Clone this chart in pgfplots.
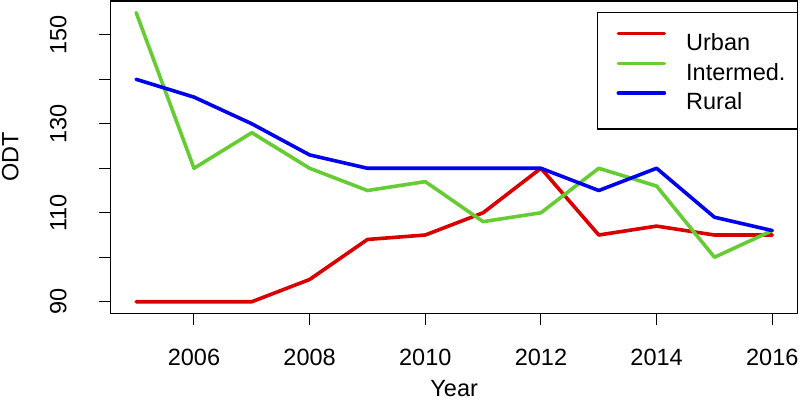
\documentclass[border=0pt]{standalone}
\usepackage{fontspec}
\setmainfont{Liberation Sans}
\usepackage{pgfplots}
\pgfplotsset{compat=1.18}

\definecolor{urban}{RGB}{218,0,0}
\definecolor{intermed}{RGB}{102,204,51}
\definecolor{rural}{RGB}{0,0,238}

\begin{document}
\fontsize{23.5bp}{28bp}\selectfont
\begin{tikzpicture}
\begin{axis}[
  scale only axis,
  width=687bp, height=312.3bp,
  xmin=2004.56, xmax=2016.44,
  ymin=87.4, ymax=157.6,
  axis line style={line width=1.1bp},
  tick pos=left,
  tick align=outside,
  major tick length=12bp,
  tick style={line width=1bp, black},
  xtick={2006,2008,2010,2012,2014,2016},
  xticklabels={2006,2008,2010,2012,2014,2016},
  ytick={90,100,110,120,130,140,150},
  yticklabels={90,{},110,{},130,{},150},
  xticklabel style={anchor=base, yshift=-40.3bp},
  yticklabel style={anchor=base, xshift=-32.4bp, rotate=90},
  xlabel={Year},
  ylabel={ODT},
  xlabel style={at={(axis description cs:0.5,0)}, anchor=base, yshift=-83.5bp},
  ylabel style={at={(axis description cs:0,0.5)}, anchor=base, yshift=92.4bp},
  every axis plot/.append style={line width=3.6bp, line cap=round, line join=round},
  legend cell align=left,
  legend image code/.code={
    \path[draw=none] (0bp,8.4bp) -- (66.7bp,8.4bp);
    \draw[#1] (20.7bp,8.4bp) -- (66.7bp,8.4bp);
  },
  legend style={
    at={(axis description cs:1,1)}, anchor=north east, yshift=-11.3bp,
    draw=black, line width=1.1bp, fill=white,
    inner xsep=0bp, inner ysep=19bp, row sep=11bp,
    nodes={inner sep=0bp, text height=17bp, text depth=0bp},
    /tikz/every odd column/.append style={column sep=20bp},
  },
]
\addplot[color=urban] coordinates {
  (2005,90) (2006,90) (2007,90) (2008,95) (2009,104) (2010,105)
  (2011,110) (2012,120) (2013,105) (2014,107) (2015,105) (2016,105)
};
\addlegendentry{\makebox[111bp][l]{Urban}}
\addplot[color=intermed] coordinates {
  (2005,155) (2006,120) (2007,128) (2008,120) (2009,115) (2010,117)
  (2011,108) (2012,110) (2013,120) (2014,116) (2015,100) (2016,106)
};
\addlegendentry{\makebox[111bp][l]{Intermed.}}
\addplot[color=rural] coordinates {
  (2005,140) (2006,136) (2007,130) (2008,123) (2009,120) (2010,120)
  (2011,120) (2012,120) (2013,115) (2014,120) (2015,109) (2016,106)
};
\addlegendentry{\makebox[111bp][l]{Rural}}
\end{axis}
\pgfresetboundingbox
\path[use as bounding box] (-110.7bp,-87.7bp) rectangle (689.3bp,313.3bp);
\end{tikzpicture}
\end{document}
